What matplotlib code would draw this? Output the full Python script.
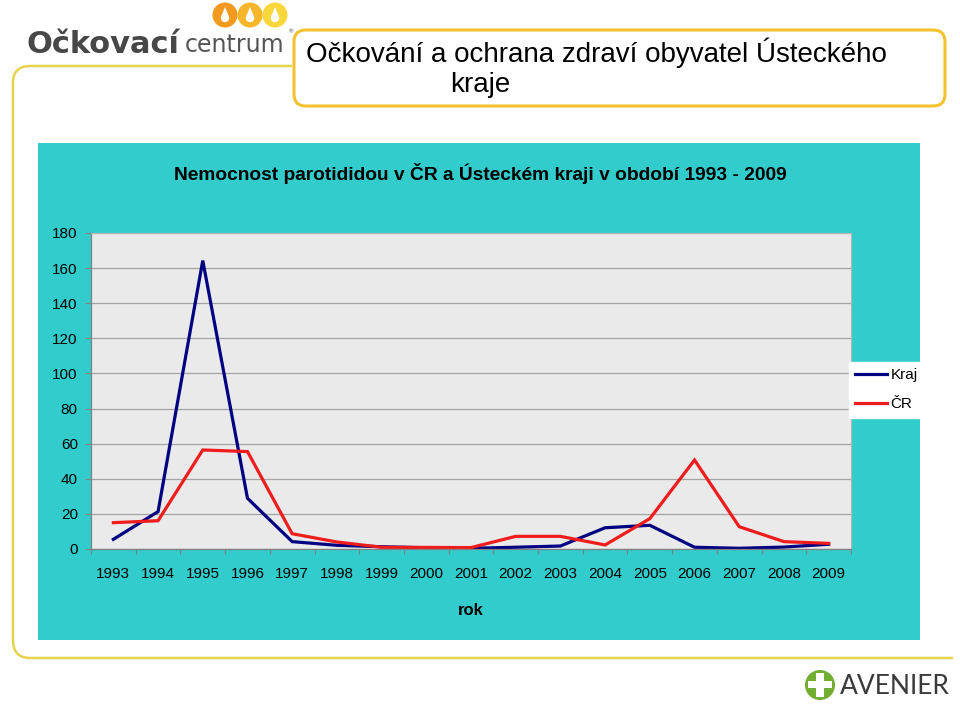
import numpy as np
import matplotlib
matplotlib.use("Agg")
import matplotlib.pyplot as plt
from matplotlib.patches import Circle, Rectangle, FancyBboxPatch, Polygon
from matplotlib.path import Path
from matplotlib.patches import PathPatch

plt.rcParams['font.family'] = ['Liberation Sans', 'DejaVu Sans']

# Data
years = [str(y) for y in range(1993, 2010)]
kraj = [5.5, 21.3, 164.3, 28.9, 4.2, 2.1, 1.3, 0.7, 0.4, 1.0, 1.7, 12.1, 13.5, 1.0, 0.4, 1.1, 2.7]
cr = [15.0, 16.1, 56.4, 55.5, 8.7, 4.0, 1.0, 0.9, 0.8, 7.2, 7.2, 2.3, 17.3, 50.7, 12.7, 4.2, 3.2]
series_names = ['Kraj', 'ČR']
series_colors = ['#000080', '#EE1C1C']
y_ticks = list(range(0, 181, 20))

W, H = 960, 708


def box(x0, y0, x1, y1):
    # pixel box (top-left origin) -> figure fraction
    return [x0 / W, 1 - y1 / H, (x1 - x0) / W, (y1 - y0) / H]


fig = plt.figure(figsize=(W / 100, H / 100), dpi=100)
fig.patch.set_facecolor('white')

# background layer in pixel coordinates
bg = fig.add_axes([0, 0, 1, 1])
bg.set_xlim(0, W)
bg.set_ylim(H, 0)
bg.axis('off')

# yellow frame (top/left) and olive bottom line
verts = [(292, 66), (30, 66), (13, 66), (13, 83), (13, 640), (13, 658), (30, 658), (953, 658)]
codes = [Path.MOVETO, Path.LINETO, Path.CURVE3, Path.CURVE3, Path.LINETO, Path.CURVE3, Path.CURVE3, Path.LINETO]
bg.add_patch(PathPatch(Path(verts, codes), fill=False, edgecolor='#E6D34C', lw=1.8))

# teal panel
bg.add_patch(Rectangle((38, 143), 882, 497, facecolor='#33CCCC', edgecolor='none'))

# title box
bg.add_patch(FancyBboxPatch((294, 30), 651, 76, boxstyle='round,pad=0,rounding_size=12',
                            facecolor='white', edgecolor='#F3C22E', lw=2.2))
bg.text(306, 62, 'Očkování a ochrana zdraví obyvatel Ústeckého', fontsize=20, color='black', va='baseline')
bg.text(450, 92, 'kraje', fontsize=20, color='black', va='baseline')

# logo top-left
bg.text(27, 53, 'Očkovací', family='DejaVu Sans', fontsize=22, fontweight='bold', color='#474747', va='baseline')
bg.text(185, 52, 'centrum', family='DejaVu Sans', fontsize=17, color='#555555', va='baseline')
bg.text(287, 33, '®', family='DejaVu Sans', fontsize=4.5, color='#555555', va='baseline')
for cx, col in zip([225, 250, 275], ['#F39A1E', '#F7B62A', '#F9D63A']):
    bg.add_patch(Circle((cx, 15), 12.5, facecolor=col, edgecolor='none'))
    bg.add_patch(Circle((cx, 18), 4.2, facecolor='white', edgecolor='none'))
    bg.add_patch(Polygon([(cx - 3.9, 16.5), (cx + 3.9, 16.5), (cx, 7)], closed=True,
                         facecolor='white', edgecolor='none'))

# logo bottom-right
bg.add_patch(Circle((820, 685), 15, facecolor='#72AE32', edgecolor='none'))
bg.add_patch(Rectangle((816, 673), 8, 24, facecolor='white', edgecolor='none'))
bg.add_patch(Rectangle((808, 681), 24, 7, facecolor='white', edgecolor='none'))
bg.text(840, 687, 'AVENIER', family='Lato', fontsize=19, color='#3A3A3A', va='center')

# chart title
bg.text(480, 174, 'Nemocnost parotididou v ČR a Ústeckém kraji v období 1993 - 2009',
        fontsize=13.8, fontweight='bold', color='black', ha='center', va='center')

# chart
ax = fig.add_axes(box(91, 233, 851, 549))
ax.set_facecolor('#EAEAEA')
x = np.arange(len(years)) + 0.5
for vals, name, col in zip([kraj, cr], series_names, series_colors):
    ax.plot(x, vals, color=col, lw=2.3, label=name, solid_joinstyle='miter')

ax.set_xlim(0, len(years))
ax.set_ylim(0, 180)
ax.set_yticks(y_ticks)
ax.set_yticklabels([str(v) for v in y_ticks])
ax.yaxis.grid(True, color='#A3A3A3', lw=0.9)
ax.set_axisbelow(True)

ax.set_xticks(np.arange(len(years) + 1))
ax.set_xticklabels([])
ax.set_xticks(x, minor=True)
ax.set_xticklabels(years, minor=True)
ax.tick_params(axis='x', which='major', direction='out', length=3.5, width=0.8, color='#808080')
ax.tick_params(axis='x', which='minor', length=0, pad=13, labelsize=11)
ax.tick_params(axis='y', direction='out', length=4.5, width=0.8, color='#808080', pad=5, labelsize=11)

for side in ['left', 'bottom']:
    ax.spines[side].set_color('#808080')
    ax.spines[side].set_linewidth(0.9)
for side in ['top', 'right']:
    ax.spines[side].set_color('#B5B5B5')
    ax.spines[side].set_linewidth(0.8)

ax.set_xlabel('rok', fontsize=12, fontweight='bold', labelpad=16)

ax.legend(loc='upper left', bbox_to_anchor=(849 / W, 1 - 362 / H), bbox_transform=fig.transFigure,
          frameon=True, fancybox=False, edgecolor='white', facecolor='white', framealpha=1,
          fontsize=11, handlelength=2.1, handletextpad=0.2, borderpad=0.4, labelspacing=1.0,
          borderaxespad=0)

fig.savefig('out.png', dpi=100)
